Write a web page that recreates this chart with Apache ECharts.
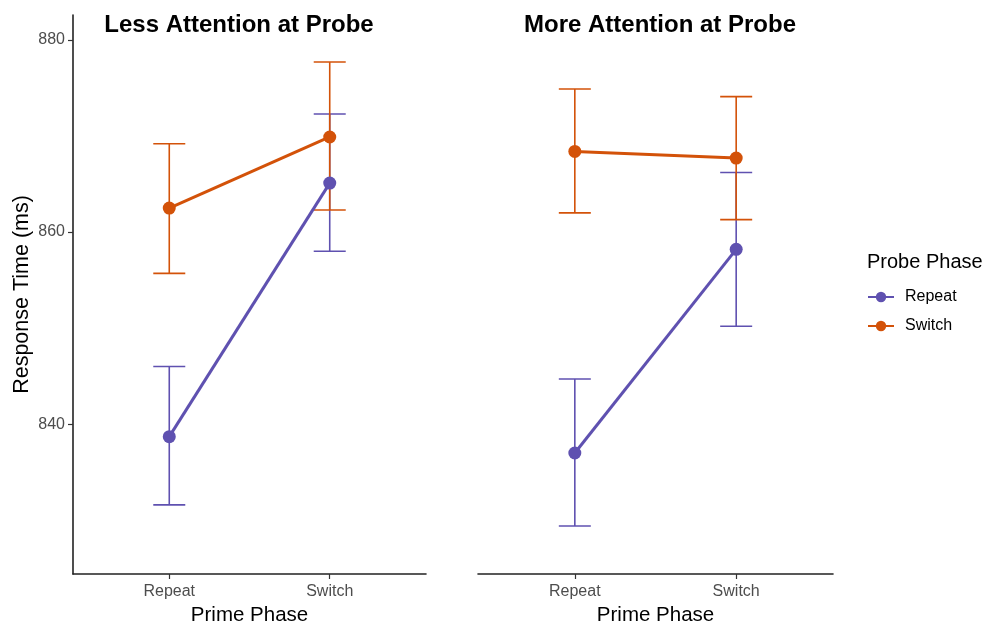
<!DOCTYPE html>
<html>
<head>
<meta charset="utf-8">
<script src="https://cdn.jsdelivr.net/npm/echarts@6/dist/echarts.min.js"></script>
<style>
  html, body { margin: 0; padding: 0; background: #fff; }
  #chart { width: 987px; height: 622px; }
</style>
</head>
<body>
<div id="chart"></div>
<script>
// Facet panels and x categories
const panelTitles = ['Less Attention at Probe', 'More Attention at Probe'];
const primePhases = ['Repeat', 'Switch'];
const probePhases = ['Repeat', 'Switch'];
const yTicks = [840, 860, 880];

// Mean response times per panel, indexed by prime phase
const lessRepeat = [838.7, 865.1];
const lessSwitch = [862.5, 869.9];
const moreRepeat = [837.0, 858.2];
const moreSwitch = [868.4, 867.7];

// Error bar bounds per panel, indexed by prime phase
const lessRepeatLow = [831.6, 858.0];
const lessRepeatHigh = [846.0, 872.3];
const lessSwitchLow = [855.7, 862.3];
const lessSwitchHigh = [869.2, 877.7];
const moreRepeatLow = [829.4, 850.2];
const moreRepeatHigh = [844.7, 866.2];
const moreSwitchLow = [862.0, 861.3];
const moreSwitchHigh = [874.9, 874.1];

const colors = { Repeat: '#5f51b0', Switch: '#d35209' };
const font = 'Liberation Sans, Arial, sans-serif';

function pts(vals) { return vals.map((v, i) => [i + 1, v]); }
function bars(lo, hi) { return lo.map((l, i) => [i + 1, l, hi[i]]); }

function errorSeries(name, gridIdx, lo, hi) {
  return {
    type: 'custom', name: name + ' error',
    xAxisIndex: gridIdx, yAxisIndex: gridIdx,
    data: bars(lo, hi), z: 1,
    itemStyle: { color: colors[name] },
    renderItem: function (params, api) {
      const x = api.value(0);
      const p1 = api.coord([x, api.value(1)]);
      const p2 = api.coord([x, api.value(2)]);
      const hw = 16;
      const style = { stroke: colors[name], lineWidth: 1.6, fill: null };
      return {
        type: 'group',
        children: [
          { type: 'line', shape: { x1: p1[0], y1: p1[1], x2: p2[0], y2: p2[1] }, style: style },
          { type: 'line', shape: { x1: p1[0] - hw, y1: p1[1], x2: p1[0] + hw, y2: p1[1] }, style: style },
          { type: 'line', shape: { x1: p2[0] - hw, y1: p2[1], x2: p2[0] + hw, y2: p2[1] }, style: style }
        ]
      };
    }
  };
}

function lineSeries(name, gridIdx, vals) {
  return {
    type: 'line', name: name,
    xAxisIndex: gridIdx, yAxisIndex: gridIdx,
    data: pts(vals), z: 3,
    symbol: 'circle', symbolSize: 13,
    itemStyle: { color: colors[name] },
    lineStyle: { color: colors[name], width: 3 },
    emphasis: { disabled: true },
    animation: false
  };
}

function xAxis(gridIdx) {
  return {
    type: 'value', gridIndex: gridIdx, min: 0.4, max: 2.6,
    axisLine: { show: true, onZero: false, lineStyle: { color: '#222', width: 1.6 } },
    axisTick: { show: true, customValues: [1, 2], length: 5, lineStyle: { color: '#333', width: 1.2 } },
    axisLabel: {
      customValues: [1, 2],
      formatter: v => primePhases[Math.round(v) - 1],
      color: '#4d4d4d', fontSize: 16, fontFamily: font, margin: 10
    },
    splitLine: { show: false },
    name: 'Prime Phase', nameLocation: 'middle', nameGap: 26,
    nameTextStyle: { color: '#000', fontSize: 20.5, fontFamily: font }
  };
}

function yAxis(gridIdx) {
  const first = gridIdx === 0;
  return {
    type: 'value', gridIndex: gridIdx, min: 824.4, max: 882.6,
    axisLine: { show: first, lineStyle: { color: '#222', width: 1.6 } },
    axisTick: { show: first, customValues: yTicks, length: 5, lineStyle: { color: '#333', width: 1.2 } },
    axisLabel: {
      show: first, customValues: yTicks,
      color: '#4d4d4d', fontSize: 16, fontFamily: font, margin: 8
    },
    splitLine: { show: false },
    name: first ? 'Response Time (ms)' : '',
    nameLocation: 'middle', nameGap: 40, nameRotate: 90,
    nameTextStyle: { color: '#000', fontSize: 21.5, fontFamily: font }
  };
}

const chart = echarts.init(document.getElementById('chart'), null, { renderer: 'canvas' });
chart.setOption({
  animation: false,
  backgroundColor: '#fff',
  title: [
    { text: panelTitles[0], left: 234, top: 8, textAlign: 'center',
      textStyle: { fontSize: 24, fontWeight: 'bold', color: '#000', fontFamily: font } },
    { text: panelTitles[1], left: 655, top: 8, textAlign: 'center',
      textStyle: { fontSize: 24, fontWeight: 'bold', color: '#000', fontFamily: font } },
    { text: 'Probe Phase', left: 862, top: 247,
      textStyle: { fontSize: 20, fontWeight: 'normal', color: '#000', fontFamily: font } }
  ],
  legend: {
    data: probePhases.map(p => ({ name: p })),
    orient: 'vertical', left: 862, top: 284,
    itemWidth: 26, itemHeight: 13, itemGap: 13,
    textStyle: { fontSize: 16, color: '#000', fontFamily: font, padding: [0, 0, 0, 6] },
    selectedMode: false
  },
  grid: [
    { left: 73, right: 561, top: 15, bottom: 48, outerBoundsMode: 'none' },
    { left: 478, right: 154, top: 15, bottom: 48, outerBoundsMode: 'none' }
  ],
  xAxis: [xAxis(0), xAxis(1)],
  yAxis: [yAxis(0), yAxis(1)],
  series: [
    lineSeries('Repeat', 0, lessRepeat),
    lineSeries('Switch', 0, lessSwitch),
    lineSeries('Repeat', 1, moreRepeat),
    lineSeries('Switch', 1, moreSwitch),
    errorSeries('Repeat', 0, lessRepeatLow, lessRepeatHigh),
    errorSeries('Switch', 0, lessSwitchLow, lessSwitchHigh),
    errorSeries('Repeat', 1, moreRepeatLow, moreRepeatHigh),
    errorSeries('Switch', 1, moreSwitchLow, moreSwitchHigh)
  ]
});
</script>
</body>
</html>
